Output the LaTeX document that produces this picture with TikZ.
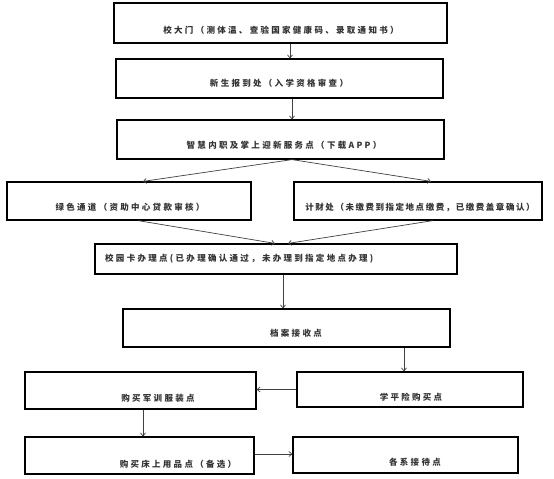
\documentclass[tikz,border=0pt]{standalone}
\usepackage{fontspec}
\newfontfamily\cjk[LetterSpace=27]{Noto Sans CJK SC}
\newfontfamily\cjknarrow[LetterSpace=18]{Noto Sans CJK SC}
\usetikzlibrary{arrows.meta}
\tikzset{
  box/.style={draw=black, line width=1.2pt, rectangle, inner sep=0pt},
  lbl/.style={inner sep=0pt, font=\cjk\bfseries\fontsize{8.5}{10}\selectfont, text=black!80},
  lbln/.style={lbl, font=\cjknarrow\bfseries\fontsize{8.5}{10}\selectfont},
  arr/.style={draw=black!75, line width=0.7pt, -{Straight Barb[length=3pt,width=5pt]}}
}
\begin{document}
\begin{tikzpicture}[x=1pt,y=-1pt]
\useasboundingbox (0,0) rectangle (554,479);
% boxes
\node[box, minimum width=333pt, minimum height=40pt] (b1) at (280.5,23) {};
\node[box, minimum width=327pt, minimum height=39pt] (b2) at (279.5,78.5) {};
\node[box, minimum width=327pt, minimum height=39pt] (b3) at (280.5,139.5) {};
\node[box, minimum width=244pt, minimum height=38pt] (b4) at (129,201) {};
\node[box, minimum width=248pt, minimum height=38pt] (b5) at (418,201) {};
\node[box, minimum width=362pt, minimum height=30pt] (b6) at (276,259) {};
\node[box, minimum width=327pt, minimum height=38pt] (b7) at (286.5,328) {};
\node[box, minimum width=231pt, minimum height=37pt] (b8) at (140.5,390.5) {};
\node[box, minimum width=226pt, minimum height=35pt] (b9) at (410,389.5) {};
\node[box, minimum width=229pt, minimum height=37pt] (b10) at (139.5,455.5) {};
\node[box, minimum width=225pt, minimum height=36pt] (b11) at (405.5,455) {};
% texts
\node[lbl] (t1) at (281,30) {校大门（测体温、查验国家健康码、录取通知书）};
\node[lbl] (t2) at (279,83) {新生报到处（入学资格审查）};
\node[lbl] (t3) at (284,145) {智慧内职及掌上迎新服务点（下载APP）};
\node[lbl] (t4) at (130,207) {绿色通道（资助中心贷款审核）};
\node[lbln] (t5) at (420,207) {计财处（未缴费到指定地点缴费，已缴费盖章确认）};
\node[lbl, anchor=west] (t6) at (105,259) {校园卡办理点(已办理确认通过，未办理到指定地点办理)};
\node[lbl] (t7) at (296,333) {档案接收点};
\node[lbl] (t8) at (158,398) {购买军训服装点};
\node[lbl] (t9) at (411,397) {学平险购买点};
\node[lbl] (t10) at (178,464) {购买床上用品点（备选）};
\node[lbl] (t11) at (415,462) {各系接待点};
% connectors
\draw[arr] ([xshift=9.5pt]b1.south) -- ([xshift=10.5pt]b2.north);
\draw[arr] ([xshift=12.5pt]b2.south) -- ([xshift=11.5pt]b3.north);
\draw[arr] ([xshift=11.5pt]b3.south) -- ([xshift=14pt]b4.north);
\draw[arr] ([xshift=11.5pt]b3.south) -- ([xshift=13pt]b5.north);
\draw[arr] ([xshift=9pt]b4.south) -- ([xshift=-1pt]b6.north);
\draw[arr] ([xshift=15pt]b5.south) -- ([xshift=12pt]b6.north);
\draw[arr] ([xshift=7pt]b6.south) -- ([xshift=-3.5pt]b7.north);
\draw[arr] ([xshift=117.5pt]b7.south) -- ([xshift=-6pt]b9.north);
\draw[arr] (b9.west) -- (b9.west -| b8.east);
\draw[arr] ([xshift=2.5pt]b8.south) -- ([xshift=3.5pt]b10.north);
\draw[arr] ([yshift=1.5pt]b10.east) -- ([yshift=1.5pt]b10.east -| b11.west);
\end{tikzpicture}
\end{document}
